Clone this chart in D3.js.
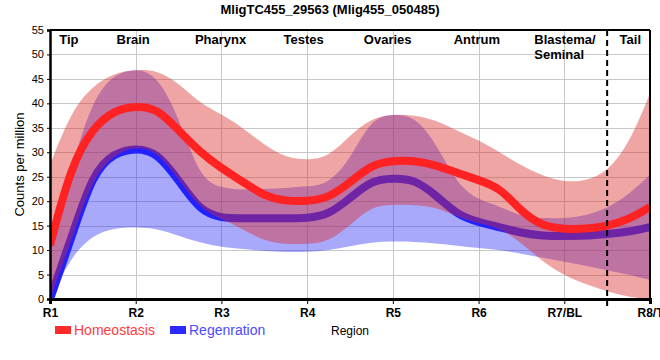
<!DOCTYPE html>
<html>
<head>
    <meta charset="utf-8">
    <style>
        body { margin: 0; background: #ffffff; }
        text { font-family: "Liberation Sans", Arial, sans-serif; }
    </style>
    <script src="https://d3js.org/d3.v7.min.js"></script>
</head>
<body>
<div id="chart"></div>
<script>

    // region ticks along the body
    var categories = ["R1", "R2", "R3", "R4", "R5", "R6", "R7/BL", "R8/T"];

    // sample positions (1 = R1 ... 8 = R8), read every quarter step
    var pos = [1, 1.25, 1.5, 1.75, 2, 2.25, 2.5, 2.75, 3, 3.25, 3.5, 3.75, 4, 4.25, 4.5, 4.75,
               5, 5.25, 5.5, 5.75, 6, 6.25, 6.5, 6.75, 7, 7.25, 7.5, 7.75, 8];

    var homMean = [11, 27.5, 35, 38.6, 39.5, 39, 34.5, 30, 26.7, 24, 21, 20, 20, 20.6, 23.8, 27.5,
                   28.3, 28.3, 27.4, 25.8, 24.3, 22.8, 17.8, 14.8, 14.3, 14.3, 14.9, 16.2, 18.8];
    var homLow  = [0, 12, 25, 29.5, 31.3, 30.2, 24.5, 18.5, 16.3, 14.3, 11.8, 11.2, 11.2, 11.7, 15, 19,
                   19.3, 19.2, 18.8, 16.8, 15.5, 14.5, 11.5, 7.6, 4.8, 3, 1.5, 0.4, 0];
    var homHigh = [27.4, 38.5, 43.6, 46.2, 46.9, 46.8, 44.2, 40, 37.8, 35, 31.5, 28.9, 28.4, 29, 33.5, 37,
                   37.8, 37.6, 36.6, 34.4, 32.5, 30, 27.2, 25.2, 23.9, 24.1, 26, 31.5, 42];

    var regMean = [0, 12.5, 25.8, 29.9, 30.9, 30, 24.3, 18, 16.5, 16.5, 16.5, 16.5, 16.5, 17.2, 20.6, 24.3,
                   24.7, 24.5, 21.3, 17.2, 15.7, 14.7, 13.5, 12.9, 12.9, 12.9, 13.3, 13.7, 14.7];
    var regLow  = [0, 8.8, 13.1, 14.5, 14.7, 14.4, 12.9, 11.5, 10.6, 10.2, 9.8, 9.6, 9.6, 9.9, 10.8, 11.6,
                   11.8, 11.7, 11.4, 10.9, 10.4, 10, 9.3, 8.4, 7.6, 6.8, 5.9, 5, 3.9];
    var regHigh = [11, 27, 41, 46, 47.2, 45.8, 37.3, 24.5, 22.7, 22.3, 22.5, 22.7, 23, 23.5, 28.5, 37,
                   37.8, 37.5, 32, 23.4, 20.2, 19, 16.8, 16.5, 16.5, 17, 18.6, 21.3, 25.4];

    var regions   = ["Tip", "Brain", "Pharynx", "Testes", "Ovaries", "Antrum", "Blastema/", "Tail"];
    var regionPos = [1.22, 1.97, 2.99, 3.96, 4.94, 5.98, 6.65, 7.77];

    var W = 660, H = 360;
    var margin = {top: 30, right: 10, bottom: 61, left: 50};

    var svg = d3.select("#chart").append("svg")
        .attr("width", W)
        .attr("height", H);

    var x = d3.scaleLinear().domain([1, 8]).range([margin.left, W - margin.right]);
    var y = d3.scaleLinear().domain([0, 55]).range([H - margin.bottom, margin.top]);

    svg.append("defs").append("clipPath").attr("id", "plotclip")
        .append("rect")
        .attr("x", x(1)).attr("y", y(55))
        .attr("width", x(8) - x(1)).attr("height", y(0) - y(55));

    // grid
    var grid = svg.append("g");
    grid.selectAll(".hg").data(d3.range(5, 56, 5)).enter().append("line")
        .attr("x1", x(1)).attr("x2", x(8))
        .attr("y1", d => Math.round(y(d)) + 0.5).attr("y2", d => Math.round(y(d)) + 0.5)
        .attr("stroke", "#c8c8c8").attr("stroke-width", 1);
    grid.selectAll(".vg").data(d3.range(2, 8)).enter().append("line")
        .attr("x1", d => Math.round(x(d)) + 0.5).attr("x2", d => Math.round(x(d)) + 0.5)
        .attr("y1", y(55)).attr("y2", y(0))
        .attr("stroke", "#c8c8c8").attr("stroke-width", 1);

    var plot = svg.append("g").attr("clip-path", "url(#plotclip)");

    function band(lo, hi, col, op) {
        plot.append("path")
            .datum(pos)
            .attr("fill", col)
            .attr("fill-opacity", op)
            .attr("d", d3.area()
                .curve(d3.curveBasis)
                .x(d => x(d))
                .y0((d, i) => y(lo[i]))
                .y1((d, i) => y(hi[i])));
    }

    function line(vals, col) {
        plot.append("path")
            .datum(pos)
            .attr("fill", "none")
            .attr("stroke", col)
            .attr("stroke-width", 8)
            .attr("stroke-linejoin", "round")
            .attr("d", d3.line()
                .curve(d3.curveBasis)
                .x(d => x(d))
                .y((d, i) => y(vals[i])));
    }

    band(regLow, regHigh, "rgb(40,40,245)", 0.4);
    line(regMean, "#2222ff");
    band(homLow, homHigh, "rgb(220,40,40)", 0.42);
    line(homMean, "#ff2222");

    // frame
    svg.append("line").attr("x1", x(1)).attr("x2", x(8)).attr("y1", y(55)).attr("y2", y(55))
        .attr("stroke", "#000").attr("stroke-width", 2);
    svg.append("line").attr("x1", x(8)).attr("x2", x(8)).attr("y1", y(55)).attr("y2", y(0))
        .attr("stroke", "#000").attr("stroke-width", 2);

    // dashed separator between R7 and R8
    svg.append("line")
        .attr("x1", x(7.5)).attr("x2", x(7.5))
        .attr("y1", y(55)).attr("y2", y(0) + 7)
        .attr("stroke", "#000").attr("stroke-width", 2)
        .style("stroke-dasharray", "6, 4");

    // y axis
    var yx = svg.append("g")
        .attr("transform", "translate(" + x(1) + ",0)")
        .call(d3.axisLeft(y).tickValues(d3.range(0, 56, 5)).tickSize(3).tickPadding(3));
    yx.select(".domain").attr("stroke", "#000").attr("stroke-width", 2.5);
    yx.selectAll("text").attr("font-size", 11).attr("fill", "#000")
        .style("font-family", "'Liberation Sans', Arial, sans-serif");

    // x axis
    var xx = svg.append("g")
        .attr("transform", "translate(0," + y(0) + ")")
        .call(d3.axisBottom(x).tickValues(d3.range(1, 9)).tickSize(5).tickPadding(4)
            .tickFormat((d, i) => categories[i]));
    xx.select(".domain").attr("stroke", "#000").attr("stroke-width", 3);
    xx.selectAll("text").attr("font-size", 12).attr("font-weight", "bold").attr("fill", "#000")
        .style("font-family", "'Liberation Sans', Arial, sans-serif");

    // region names
    var labels = svg.append("g");
    regions.forEach(function(r, i) {
        var t = labels.append("text")
            .attr("x", x(regionPos[i]))
            .attr("y", 44)
            .attr("font-size", 13)
            .attr("font-weight", "bold")
            .attr("fill", "#000")
            .attr("text-anchor", "middle")
            .text(r);
        if (r == "Blastema/") {
            t.attr("text-anchor", "start");
            labels.append("text")
                .attr("x", x(regionPos[i])).attr("y", 59)
                .attr("font-size", 13).attr("font-weight", "bold").attr("fill", "#000")
                .text("Seminal");
        }
    });

    // title
    svg.append("text")
        .attr("x", 330).attr("y", 14)
        .attr("text-anchor", "middle")
        .attr("font-size", 13).attr("font-weight", "bold")
        .text("MligTC455_29563 (Mlig455_050485)");

    // axis titles
    svg.append("text")
        .attr("transform", "translate(24," + ((y(0) + y(55)) / 2) + ") rotate(-90)")
        .attr("text-anchor", "middle")
        .attr("font-size", 13)
        .text("Counts per million");

    svg.append("text")
        .attr("x", (x(1) + x(8)) / 2).attr("y", 335)
        .attr("text-anchor", "middle")
        .attr("font-size", 12)
        .text("Region");

    // legend
    var legend = svg.append("g");
    legend.append("rect").attr("x", 55).attr("y", 326).attr("width", 16).attr("height", 8).attr("fill", "#ff2b2b");
    legend.append("text").attr("x", 74).attr("y", 335).attr("font-size", 14).attr("fill", "#ff3c3c").text("Homeostasis");
    legend.append("rect").attr("x", 170).attr("y", 326).attr("width", 16).attr("height", 8).attr("fill", "#2b2bff");
    legend.append("text").attr("x", 189).attr("y", 335).attr("font-size", 14).attr("fill", "#4b4bff").text("Regenration");

</script>
</body>
</html>
